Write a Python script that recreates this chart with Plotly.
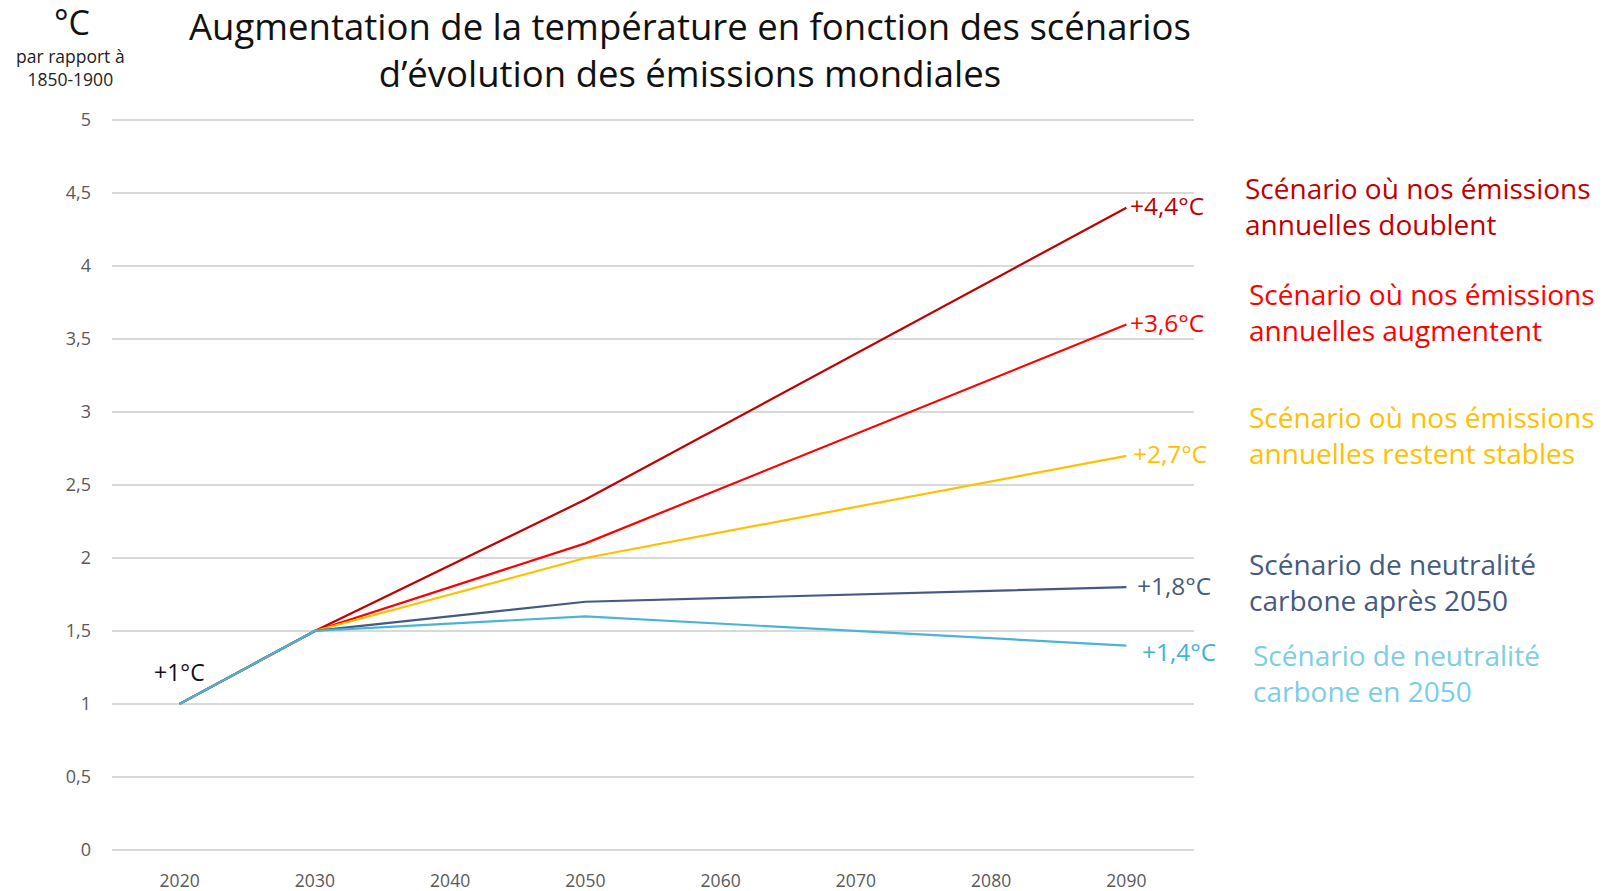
import plotly.graph_objects as go

# ------------------------------------ Data ------------------------------------

years = ["2020", "2030", "2040", "2050", "2060", "2070", "2080", "2090"]
y_ticks = [0, 0.5, 1, 1.5, 2, 2.5, 3, 3.5, 4, 4.5, 5]
y_tick_labels = ["0", "0,5", "1", "1,5", "2", "2,5", "3", "3,5", "4", "4,5", "5"]

# only 2020, 2030, 2050 and 2090 are known, the rest are gaps
doublent = [1.0, 1.5, None, 2.4, None, None, None, 4.4]
augmentent = [1.0, 1.5, None, 2.1, None, None, None, 3.6]
stables = [1.0, 1.5, None, 2.0, None, None, None, 2.7]
neutre_apres = [1.0, 1.5, None, 1.7, None, None, None, 1.8]
neutre_2050 = [1.0, 1.5, None, 1.6, None, None, None, 1.4]

end_labels = ["+4,4°C", "+3,6°C", "+2,7°C", "+1,8°C", "+1,4°C"]
scenario_names = [
    "Scénario où nos émissions<br>annuelles doublent",
    "Scénario où nos émissions<br>annuelles augmentent",
    "Scénario où nos émissions<br>annuelles restent stables",
    "Scénario de neutralité<br>carbone après 2050",
    "Scénario de neutralité<br>carbone en 2050",
]

# ------------------------------------ Style ------------------------------------

W, H = 1605, 891
L, R, T, B = 112, 1194, 120, 850
FONT = "Open Sans"

line_colors = ["#C00000", "#FF0000", "#FFC000", "#465A80", "#4BB4D6"]
text_colors = ["#C00000", "#FF0000", "#FFC000", "#465A80", "#7CCDE5"]
end_label_colors = ["#C00000", "#FF0000", "#FFC000", "#465A80", "#3DB3D8"]


def px(x):
    return (x - L) / (R - L)


def py(y):
    return (B - y) / (B - T)


fig = go.Figure()

series = [doublent, augmentent, stables, neutre_apres, neutre_2050]
for values, color in zip(series, line_colors):
    fig.add_trace(go.Scatter(x=years, y=values, mode="lines", connectgaps=True,
                             line=dict(color=color, width=2.2), showlegend=False,
                             hoverinfo="skip"))

# end of line labels, placed next to the 2090 point (category index 7)
end_shift = [(2, 2), (2, 2), (5, 2), (9, 2), (14, -6)]
for values, label, color, (dx, dy) in zip(series, end_labels, end_label_colors, end_shift):
    fig.add_annotation(x=len(years) - 1, y=values[-1], xref="x", yref="y", text=label,
                       showarrow=False, xanchor="left", yanchor="middle",
                       xshift=dx, yshift=dy, font=dict(family=FONT, size=24.5, color=color))

# scenario names on the right
name_pos = [(1243, 207), (1247, 312), (1247, 435), (1247, 582), (1251, 672)]
for name, color, (x, y) in zip(scenario_names, text_colors, name_pos):
    fig.add_annotation(x=px(x), y=py(y), xref="paper", yref="paper", text=name,
                       showarrow=False, xanchor="left", yanchor="middle", align="left",
                       font=dict(family=FONT, size=28, color=color))

# +1°C at start
fig.add_annotation(x=0, y=1, xref="x", yref="y", text="+1°C", showarrow=False,
                   xanchor="center", yanchor="middle", yshift=32,
                   font=dict(family=FONT, size=23, color="#111111"))

# unit top-left
fig.add_annotation(x=px(72), y=py(23), xref="paper", yref="paper", text="°C",
                   showarrow=False, xanchor="center", yanchor="middle",
                   font=dict(family=FONT, size=34, color="#111111"))
fig.add_annotation(x=px(70), y=py(69), xref="paper", yref="paper",
                   text="par rapport à<br>1850-1900", showarrow=False,
                   xanchor="center", yanchor="middle",
                   font=dict(family=FONT, size=17.5, color="#222222"))

# title
fig.add_annotation(x=px(690), y=py(51), xref="paper", yref="paper",
                   text="Augmentation de la température en fonction des scénarios<br>d’évolution des émissions mondiales",
                   showarrow=False, xanchor="center", yanchor="middle",
                   font=dict(family=FONT, size=36.5, color="#111111"))

fig.update_xaxes(type="category", categoryorder="array", categoryarray=years,
                 range=[-0.5, 7.5], showgrid=False, showline=False, zeroline=False,
                 ticks="", ticklabelstandoff=17,
                 tickfont=dict(family=FONT, size=17.5, color="#595959"))
# range padded a hair so the 0 and 5 gridlines are still drawn
fig.update_yaxes(range=[-0.008, 5.008], tickvals=y_ticks, ticktext=y_tick_labels,
                 showgrid=True, gridcolor="#D9D9D9", gridwidth=2, zeroline=False,
                 showline=False, ticks="", ticklabelstandoff=20,
                 tickfont=dict(family=FONT, size=18, color="#595959"))

fig.update_layout(width=W, height=H, plot_bgcolor="white", paper_bgcolor="white",
                  margin=dict(l=L, r=W - R, t=T - 1, b=H - B - 1, autoexpand=False),
                  font=dict(family=FONT))

# drop the page's default 8px body margin so the figure fills the window
fig.write_html("out.html", config={"displayModeBar": False},
               post_script="document.body.style.margin='0';")
